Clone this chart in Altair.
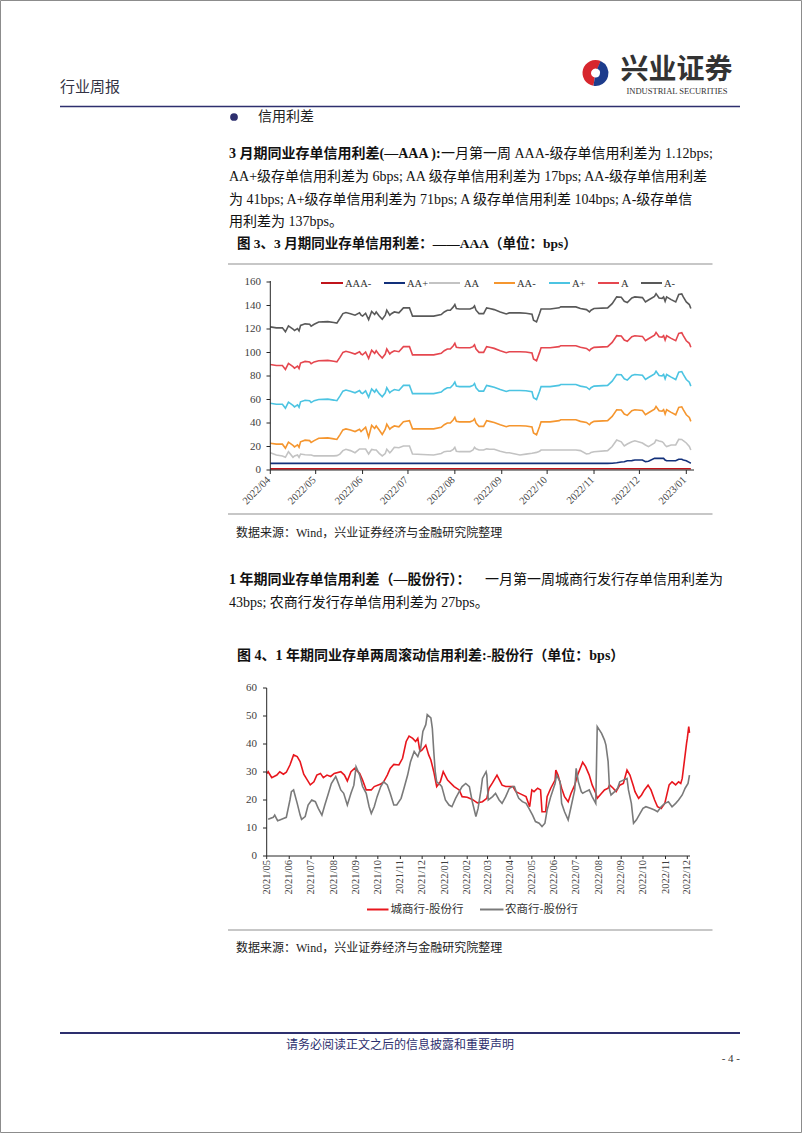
import altair as alt
import pandas as pd

# ---------------- Figure 3 data (3-month NCD credit spread, bps) ----------------
c1_dates = ["2022-04-01","2022-04-05","2022-04-09","2022-04-11","2022-04-13","2022-04-16","2022-04-17","2022-04-19","2022-04-20","2022-04-21",
            "2022-04-24","2022-04-27","2022-04-28","2022-04-30","2022-05-03","2022-05-09","2022-05-13","2022-05-15","2022-05-17","2022-05-19",
            "2022-05-21","2022-05-24","2022-05-27","2022-05-30","2022-05-31","2022-06-01","2022-06-03","2022-06-05","2022-06-07","2022-06-09",
            "2022-06-10","2022-06-12","2022-06-14","2022-06-16","2022-06-17","2022-06-19","2022-06-20","2022-06-22","2022-06-25","2022-06-28",
            "2022-07-02","2022-07-03","2022-07-04","2022-07-14","2022-07-18","2022-07-23","2022-07-25","2022-07-27","2022-07-29","2022-07-31",
            "2022-08-01","2022-08-02","2022-08-04","2022-08-11","2022-08-13","2022-08-14","2022-08-15","2022-08-17","2022-08-20","2022-08-22",
            "2022-08-24","2022-08-27","2022-08-31","2022-09-04","2022-09-06","2022-09-13","2022-09-17","2022-09-21","2022-09-22","2022-09-24",
            "2022-09-26","2022-09-27","2022-10-03","2022-10-09","2022-10-10","2022-10-20","2022-10-23","2022-10-27","2022-10-29","2022-10-30",
            "2022-11-01","2022-11-10","2022-11-13","2022-11-16","2022-11-19","2022-11-21","2022-11-23","2022-11-26","2022-11-28","2022-12-03",
            "2022-12-05","2022-12-07","2022-12-11","2022-12-12","2022-12-14","2022-12-16","2022-12-17","2022-12-18","2022-12-19","2022-12-22",
            "2022-12-25","2022-12-27","2022-12-29","2022-12-30","2023-01-01","2023-01-03","2023-01-04"]

a_minus = [121.8,121,121,117.6,122.7,120,118.7,120.4,118.4,123,
           124.4,124,122.4,124,126,126.3,125.5,125,128.9,133.1,
           134,133,131.7,133.7,131.7,131,133.4,128,135,132.3,
           134.5,131,128.3,131.7,136,131.7,133,134.5,133.7,138,
           138,134.5,131,131,131,132.3,134.5,136,136,138.8,
           140.8,137.4,137,137,138,139.6,136,133.1,133.1,138,
           137.4,136.5,134.5,132.8,133.7,133.7,133.4,132.6,127.5,126,
           133.1,137,137,138,138.8,138.8,137.4,136.5,134.5,136,
           137.4,138,141.6,147.3,147,143.6,142.5,146.4,147.3,146.7,
           143,144.7,147.8,150.1,146.4,146.1,147.3,143.6,147.3,145,
           143,149.3,149.8,147.3,143,140.8,137.4]

a_mid = [89.8,89,89,85.6,90.7,88,86.7,88.4,86.4,91,
         92.4,92,90.4,92,93,93.3,92.5,92,95.9,100.1,
         101,100,98.7,100.7,98.7,98,100.4,95,102,99.3,
         101.5,98,95.3,98.7,103,98.7,100,101.5,100.7,105,
         105,101.5,98,98,98,99.3,101.5,103,103,105.8,
         107.8,104.4,104,104,105,106.6,103,100.1,100.1,105,
         104.4,103.5,101.5,99.8,100.7,100.7,100.4,99.6,94.5,93,
         100.1,104,104,105,105.8,105.8,104.4,103.5,101.5,103,
         104.4,105,108.6,114.3,114,110.6,109.5,113.4,114.3,113.7,
         110,111.7,114.8,117.1,113.4,113.1,114.3,110.6,114.3,112,
         110,116.3,116.8,114.3,110,107.8,104.4]

a_plus = [56.8,56,56,52.6,57.7,55,53.7,55.4,53.4,58,
          59.4,59,57.4,59,60,60.3,59.5,59,62.9,67.1,
          68,67,65.7,67.7,65.7,65,67.4,62,69,66.3,
          68.5,65,62.3,65.7,70,65.7,67,68.5,67.7,72,
          72,68.5,65,65,65,66.3,68.5,70,70,72.8,
          74.8,71.4,71,71,72,73.6,70,67.1,67.1,72,
          71.4,70.5,68.5,66.8,67.7,67.7,67.4,66.6,61.5,60,
          67.1,71,71,72,72.8,72.8,71.4,70.5,68.5,70,
          71.4,72,75.6,81.3,81,77.6,76.5,80.4,81.3,80.7,
          77,78.7,81.8,84.1,80.4,80.1,81.3,77.6,81.3,79,
          77,83.3,83.8,81.3,77,74.8,71.4]

aa_minus = [22.8,22,22,18.6,23.7,21,19.7,21.4,19.4,24,
            25.4,25,23.4,25,27,27.3,26.5,26,29.9,34.1,
            35,34,32.7,34.7,32.7,34,36.4,28,38,35.3,
            37.5,34,30.3,34.7,39,34.7,36,37.5,36.7,41,
            42,38.5,35,35,35,36.3,38.5,40,40,42.8,
            44.8,41.4,41,41,42,43.6,40,37.1,37.1,42,
            41.4,40.5,38.5,36.8,37.7,37.7,37.4,36.6,31.5,30,
            37.1,41,41,42,42.8,42.8,41.4,40.5,38.5,40,
            41.4,42,45.6,51.3,51,47.6,46.5,50.4,51.3,50.7,
            47,48.7,51.8,54.1,50.4,50.1,51.3,47.6,51.3,49,
            47,53.3,53.8,51.3,47,44.8,41.4]

aa_mid = [14.7,12.8,12,10.8,15.6,10.8,12,12.8,10.8,13.6,
          13,12.8,12.8,12,12,12,12,12.2,13.5,16.5,
          17.6,16.5,14.7,17.9,17.9,17.9,17.9,13.6,17.5,17,
          17,14.2,12,14,17.6,14.7,16,19.3,19,20.4,
          20.4,17,13.6,13,12.8,14,15.6,16,16,17.6,
          19.3,16,15.6,15.6,17,19.3,18,17,17,18,
          17.6,17.6,16,14.7,14.7,12.8,13.5,14.2,14.5,15,
          16,17,17,17,17,17,16.5,13.6,14,15,
          15.6,16.5,20,25.5,24,20.4,22.1,24,24.9,23,
          21.3,19.9,23,25.5,24.6,24.1,23,21,19.9,21.3,
          21.3,26.1,26,24.9,23,20,17]

aa_plus_dates = ["2022-04-01","2022-11-10","2022-11-13","2022-11-16","2022-11-19","2022-11-21","2022-11-23","2022-11-26",
                 "2022-11-28","2022-12-03","2022-12-05","2022-12-07","2022-12-11","2022-12-17","2022-12-18","2022-12-19",
                 "2022-12-25","2022-12-27","2022-12-29","2022-12-30","2023-01-01","2023-01-03","2023-01-04"]
aa_plus = [5.6,5.6,5.8,6.2,6.8,7,7.9,8,8.5,8.5,7.1,7.5,9.9,9.9,8.5,7.9,7.9,9.1,9.1,8.5,7.9,6.5,5.8]

aaa_minus_dates = ["2022-04-01","2022-07-01","2022-10-01","2023-01-04"]
aaa_minus = [1.0, 1.1, 1.1, 1.12]

c1_names = ["AAA-", "AA+", "AA", "AA-", "A+", "A", "A-"]
c1_colors = ["#c0141b", "#12307a", "#c3c3c3", "#f5962f", "#4cc4e2", "#e5474f", "#595959"]
c1_yticks = [0, 20, 40, 60, 80, 100, 120, 140, 160]
c1_months = ["2022-04-01","2022-05-01","2022-06-01","2022-07-01","2022-08-01","2022-09-01","2022-10-01",
             "2022-11-01","2022-12-01","2023-01-01"]
c1_month_labels = ["2022/04","2022/05","2022/06","2022/07","2022/08","2022/09","2022/10","2022/11","2022/12","2023/01"]

# ---------------- Figure 4 data (1Y NCD two-week rolling spread, bps) ----------------
city_vs_jsb = [("2021-05-01",29.5),("2021-05-03",30.1),("2021-05-08",28),("2021-05-15",28.9),("2021-05-19",30.1),("2021-05-24",29.2),
    ("2021-05-28",29.9),("2021-06-02",32.5),("2021-06-07",36.1),("2021-06-12",35.5),("2021-06-16",33.7),("2021-06-21",29.2),
    ("2021-06-26",27.1),("2021-06-30",25.4),("2021-07-05",26.5),("2021-07-09",28.9),("2021-07-14",29.5),("2021-07-18",28),
    ("2021-07-23",28.9),("2021-07-28",28.4),("2021-08-02",29.5),("2021-08-11",30.1),("2021-08-16",28.9),("2021-08-20",26.8),
    ("2021-08-25",30.1),("2021-08-30",31.3),("2021-09-06",29.5),("2021-09-10",27.1),("2021-09-15",23.6),("2021-09-22",23.6),
    ("2021-09-26",24.8),("2021-10-05",25.7),("2021-10-09",26.5),("2021-10-14",28.9),("2021-10-18",31.3),("2021-10-23",32.7),
    ("2021-10-30",32.5),("2021-11-04",34.9),("2021-11-09",40.9),("2021-11-13",42.8),("2021-11-18",42),("2021-11-22",40.9),
    ("2021-11-25",42),("2021-11-28",37.3),("2021-12-01",37.9),("2021-12-06",39.6),("2021-12-10",36.1),("2021-12-13",34.3),
    ("2021-12-17",30.1),("2021-12-21",24.8),("2021-12-26",26.5),("2021-12-30",30.1),("2022-01-05",27.1),("2022-01-14",24.8),
    ("2022-01-21",23.6),("2022-01-25",21.2),("2022-02-01",21),("2022-02-08",20.2),("2022-02-15",19),("2022-02-22",19.4),
    ("2022-02-28",20.6),("2022-03-03",24.2),("2022-03-08",26.2),("2022-03-14",28.9),("2022-03-21",25.3),("2022-03-26",24.8),
    ("2022-04-05",24.8),("2022-04-09",23),("2022-04-16",22.1),("2022-04-23",21.2),("2022-04-28",17.6),("2022-05-01",23.6),
    ("2022-05-04",23),("2022-05-09",24.2),("2022-05-13",23.6),("2022-05-15",15.8),("2022-05-20",15.8),("2022-05-22",21.2),
    ("2022-05-27",24.2),("2022-06-02",27.1),("2022-06-03",30.7),("2022-06-06",28.9),("2022-06-11",24.2),("2022-06-15",21.2),
    ("2022-06-20",19.4),("2022-06-24",22.4),("2022-06-29",25.3),("2022-07-03",28.9),("2022-07-10",33.5),("2022-07-14",31.9),
    ("2022-07-19",28.9),("2022-07-23",25.4),("2022-07-28",22.4),("2022-07-30",20.6),("2022-08-05",22.4),("2022-08-09",23.6),
    ("2022-08-14",24.2),("2022-08-16",25.4),("2022-08-21",24.2),("2022-08-25",23),("2022-08-30",25.3),("2022-09-04",25.9),
    ("2022-09-09",30.7),("2022-09-13",28.9),("2022-09-18",24.8),("2022-09-20",23),("2022-09-25",20.6),("2022-09-29",21.8),
    ("2022-10-03",23.6),("2022-10-08",25.3),("2022-10-12",23.6),("2022-10-17",20),("2022-10-21",17.6),("2022-10-26",17),
    ("2022-10-31",18.8),("2022-11-06",25.4),("2022-11-10",26.5),("2022-11-15",25.4),("2022-11-19",26.5),("2022-11-22",25.9),
    ("2022-11-24",27.7),("2022-11-26",31.9),("2022-11-30",40.3),("2022-12-01",42),("2022-12-03",46.2),("2022-12-04",44)]

rural_vs_jsb = [("2021-05-03",13.1),("2021-05-10",13.8),("2021-05-12",14.6),("2021-05-16",12.6),("2021-05-19",12.9),("2021-05-24",13.4),
    ("2021-05-28",13.8),("2021-06-02",20),("2021-06-04",23),("2021-06-07",23.6),("2021-06-12",18.8),("2021-06-16",14.6),
    ("2021-06-18",13.1),("2021-06-23",14.1),("2021-06-27",18.2),("2021-07-02",20),("2021-07-07",19.4),("2021-07-11",17),
    ("2021-07-16",14.6),("2021-07-20",18.2),("2021-07-25",22.4),("2021-07-29",25.9),("2021-08-04",28.4),("2021-08-06",27.1),
    ("2021-08-11",23.6),("2021-08-15",22.4),("2021-08-20",18.2),("2021-08-25",22.4),("2021-08-29",25.3),("2021-09-01",31.9),
    ("2021-09-06",28.9),("2021-09-10",24.8),("2021-09-15",22.4),("2021-09-19",17.6),("2021-09-22",15.2),("2021-09-26",17.6),
    ("2021-09-30",21.2),("2021-10-05",24.8),("2021-10-09",26.5),("2021-10-14",25.4),("2021-10-18",22.4),("2021-10-23",18.2),
    ("2021-10-27",18.2),("2021-11-02",20.6),("2021-11-06",24.2),("2021-11-11",28.9),("2021-11-15",33.7),("2021-11-20",37.3),
    ("2021-11-25",35.5),("2021-11-29",38.5),("2021-12-02",44.5),("2021-12-06",46.9),("2021-12-08",50.5),("2021-12-13",49.3),
    ("2021-12-15",45.6),("2021-12-17",37.3),("2021-12-19",30.1),("2021-12-21",26.5),("2021-12-26",25.4),("2021-12-28",24.8),
    ("2022-01-02",20),("2022-01-07",18.2),("2022-01-11",17.6),("2022-01-16",20.6),("2022-01-21",23),("2022-01-25",24.8),
    ("2022-01-30",25.9),("2022-02-04",24.8),("2022-02-08",19.4),("2022-02-13",14.1),("2022-02-16",17),("2022-02-20",23.6),
    ("2022-02-22",27.7),("2022-02-27",30.1),("2022-02-28",28.9),("2022-03-02",20),("2022-03-08",21.2),("2022-03-12",22.4),
    ("2022-03-17",20),("2022-03-21",18.8),("2022-03-26",21.2),("2022-03-31",24.2),("2022-04-05",24.8),("2022-04-07",24.8),
    ("2022-04-11",21.8),("2022-04-13",20.6),("2022-04-18",19.4),("2022-04-23",18.8),("2022-04-27",17),("2022-05-02",14.6),
    ("2022-05-06",12.3),("2022-05-11",11.7),("2022-05-15",10.5),("2022-05-19",11.7),("2022-05-22",16.4),("2022-05-27",21.2),
    ("2022-06-02",25.9),("2022-06-04",28.9),("2022-06-09",26.5),("2022-06-11",18.8),("2022-06-15",15.8),("2022-06-20",12.9),
    ("2022-06-24",17.6),("2022-06-29",23.6),("2022-07-01",31.3),("2022-07-04",26.5),("2022-07-08",23),("2022-07-10",22.4),
    ("2022-07-14",23),("2022-07-19",23.6),("2022-07-23",21.2),("2022-07-28",18.8),("2022-07-30",46.2),("2022-08-05",43.8),
    ("2022-08-09",41.4),("2022-08-11",39.6),("2022-08-14",33.7),("2022-08-16",23.6),("2022-08-18",21.8),("2022-08-23",23),
    ("2022-08-27",24.2),("2022-08-30",26.5),("2022-09-04",27.1),("2022-09-09",27.7),("2022-09-11",23.6),("2022-09-15",18.8),
    ("2022-09-18",11.7),("2022-09-22",12.9),("2022-09-27",15.2),("2022-10-01",17),("2022-10-05",17.6),("2022-10-12",17),
    ("2022-10-17",16.4),("2022-10-21",15.8),("2022-10-26",17.6),("2022-10-31",18.8),("2022-11-05",19.4),("2022-11-10",17.6),
    ("2022-11-15",18.8),("2022-11-19",20),("2022-11-24",21.8),("2022-11-28",24.2),("2022-12-02",25.9),("2022-12-04",28.9)]

c2_names = ["城商行-股份行", "农商行-股份行"]
c2_colors = ["#e8161d", "#7a7a7a"]
c2_yticks = [0, 10, 20, 30, 40, 50, 60]
c2_months = ["2021-05-01","2021-06-01","2021-07-01","2021-08-01","2021-09-01","2021-10-01","2021-11-01","2021-12-01",
             "2022-01-01","2022-02-01","2022-03-01","2022-04-01","2022-05-01","2022-06-01","2022-07-01","2022-08-01",
             "2022-09-01","2022-10-01","2022-11-01","2022-12-01"]
c2_month_labels = [m[:4] + "/" + m[5:7] for m in c2_months]

# ---------------- build tables ----------------
rows = []
for name, dates, vals in [("A-", c1_dates, a_minus), ("A", c1_dates, a_mid), ("A+", c1_dates, a_plus),
                          ("AA-", c1_dates, aa_minus), ("AA", c1_dates, aa_mid),
                          ("AA+", aa_plus_dates, aa_plus), ("AAA-", aaa_minus_dates, aaa_minus)]:
    for d, v in zip(dates, vals):
        rows.append({"date": pd.Timestamp(d), "value": v, "series": name})
df1 = pd.DataFrame(rows)
df1_ticks = pd.DataFrame({"date": pd.to_datetime(c1_months), "label": c1_month_labels})
df1_y = pd.DataFrame({"v": c1_yticks})

df2_red = pd.DataFrame({"date": pd.to_datetime([d for d, _ in city_vs_jsb]), "value": [v for _, v in city_vs_jsb],
                        "series": c2_names[0]})
df2_gray = pd.DataFrame({"date": pd.to_datetime([d for d, _ in rural_vs_jsb]), "value": [v for _, v in rural_vs_jsb],
                         "series": c2_names[1]})
df2_ticks = pd.DataFrame({"date": pd.to_datetime(c2_months), "label": c2_month_labels})
df2_y = pd.DataFrame({"v": c2_yticks})

dummy = pd.DataFrame({"k": [0]})

SERIF = "Liberation Serif"
CJK = "Noto Sans CJK SC"
MIX = "Liberation Serif, Noto Sans CJK SC"
NAVY = "#2d2f6e"
AXIS = "#262626"


def txt(s, x, y, size=14, weight="normal", color="#111111", align="left", font=MIX):
    return alt.Chart(dummy).mark_text(text=s, fontSize=size, fontWeight=weight, color=color, align=align,
                                      baseline="middle", font=font).encode(x=alt.value(x), y=alt.value(y))


def hline(x0, x1, y, color, w=1.0):
    return alt.Chart(dummy).mark_rule(color=color, strokeWidth=w).encode(
        x=alt.value(x0), x2=alt.value(x1), y=alt.value(y))


def vline(x, y0, y1, color, w=1.0):
    return alt.Chart(dummy).mark_rule(color=color, strokeWidth=w).encode(
        x=alt.value(x), y=alt.value(y0), y2=alt.value(y1))


# ---------------- Figure 3 ----------------
x1 = alt.Scale(domain=[alt.DateTime(year=2022, month=4, date=1), alt.DateTime(year=2023, month=1, date=1)],
               range=[270.3, 686.3])
y1 = alt.Scale(domain=[0, 160], range=[470, 282], nice=False, zero=False)

lines1 = alt.Chart(df1).mark_line(strokeWidth=1.6).encode(
    x=alt.X("date:T", scale=x1, axis=None),
    y=alt.Y("value:Q", scale=y1, axis=None),
    color=alt.Color("series:N", scale=alt.Scale(domain=c1_names, range=c1_colors), legend=None),
)
ylab1 = alt.Chart(df1_y).mark_text(align="right", baseline="middle", font=SERIF, fontSize=11, color="#404040").encode(
    y=alt.Y("v:Q", scale=y1, axis=None), x=alt.value(261), text="v:Q")
ytick1 = alt.Chart(df1_y).mark_rule(color=AXIS).encode(
    y=alt.Y("v:Q", scale=y1, axis=None), x=alt.value(266.5), x2=alt.value(270.3))
xtick1 = alt.Chart(df1_ticks).mark_rule(color=AXIS).encode(
    x=alt.X("date:T", scale=x1, axis=None), y=alt.value(470), y2=alt.value(474))
xlab1 = alt.Chart(df1_ticks).mark_text(align="right", baseline="middle", angle=315, font=SERIF, fontSize=10.5,
                                       color="#404040", dx=-2).encode(
    x=alt.X("date:T", scale=x1, axis=None), y=alt.value(477), text="label:N")
fig3 = alt.layer(lines1, ylab1, ytick1, xtick1, xlab1)

# legend of figure 3
leg1 = []
leg_pos = [(321, 343, 345), (384, 405, 407), (429, 460, 464), (494, 515, 517), (549, 570, 572), (598, 619, 621), (641, 662, 664)]
for name, col, (a, b, t) in zip(c1_names, c1_colors, leg_pos):
    leg1.append(hline(a, b, 283, col, 2))
    leg1.append(txt(name, t, 283.5, size=10.5, color="#333333", font=SERIF))

# ---------------- Figure 4 ----------------
x2 = alt.Scale(domain=[alt.DateTime(year=2021, month=5, date=1), alt.DateTime(year=2022, month=12, date=1)],
               range=[266.7, 687.3])
y2 = alt.Scale(domain=[0, 60], range=[856, 688], nice=False, zero=False)
c2_color = alt.Scale(domain=c2_names, range=c2_colors)

red2 = alt.Chart(df2_red).mark_line(strokeWidth=1.6).encode(
    x=alt.X("date:T", scale=x2, axis=None), y=alt.Y("value:Q", scale=y2, axis=None),
    color=alt.Color("series:N", scale=c2_color, legend=None))
gray2 = alt.Chart(df2_gray).mark_line(strokeWidth=1.6).encode(
    x=alt.X("date:T", scale=x2, axis=None), y=alt.Y("value:Q", scale=y2, axis=None),
    color=alt.Color("series:N", scale=c2_color, legend=None))
ylab2 = alt.Chart(df2_y).mark_text(align="right", baseline="middle", font=SERIF, fontSize=11, color="#404040").encode(
    y=alt.Y("v:Q", scale=y2, axis=None), x=alt.value(257), text="v:Q")
ytick2 = alt.Chart(df2_y).mark_rule(color=AXIS).encode(
    y=alt.Y("v:Q", scale=y2, axis=None), x=alt.value(263), x2=alt.value(266.7))
xtick2 = alt.Chart(df2_ticks).mark_rule(color=AXIS).encode(
    x=alt.X("date:T", scale=x2, axis=None), y=alt.value(856), y2=alt.value(859))
xlab2 = alt.Chart(df2_ticks).mark_text(align="right", baseline="middle", angle=270, font=SERIF, fontSize=10.5,
                                       color="#404040").encode(
    x=alt.X("date:T", scale=x2, axis=None), y=alt.value(860), text="label:N")
fig4 = alt.layer(red2, gray2, ylab2, ytick2, xtick2, xlab2)

leg2 = [hline(367, 388.5, 909.5, c2_colors[0], 2), txt(c2_names[0], 390.5, 909.5, size=11.5, color="#333333", font=CJK),
        hline(480, 503.5, 909.5, c2_colors[1], 2), txt(c2_names[1], 505, 909.5, size=11.5, color="#333333", font=CJK)]

# ---------------- page furniture ----------------
page = [
    alt.Chart(dummy).mark_rect(fillOpacity=0, stroke="#8c8c8c", strokeWidth=1).encode(
        x=alt.value(0.5), x2=alt.value(801.5), y=alt.value(0.5), y2=alt.value(1132.5)),
    txt("行业周报", 60, 87, size=15, color="#333344", font=CJK),
    alt.Chart(dummy).mark_arc(theta=3.3, theta2=6.7, radius=13, radius2=4.5, color="#d7262d").encode(
        x=alt.value(595.5), y=alt.value(73)),
    alt.Chart(dummy).mark_arc(theta=0.4, theta2=3.3, radius=13, radius2=4.5, color="#1d3c8c").encode(
        x=alt.value(595.5), y=alt.value(73)),
    txt("兴业证券", 676.5, 70.5, size=28, weight="bold", color="#333333", align="center", font=CJK),
    txt("INDUSTRIAL SECURITIES", 677, 91, size=8.5, color="#333333", align="center", font=SERIF),
    hline(60, 740, 106.5, NAVY, 1.5),
    alt.Chart(dummy).mark_point(shape="circle", filled=True, size=60, color=NAVY, opacity=1).encode(
        x=alt.value(234), y=alt.value(117)),
    txt("信用利差", 258, 117, size=14, color="#222222", font=CJK),
    # paragraph 1
    txt("3 月期同业存单信用利差(—AAA ):", 229, 154, weight="bold"),
    txt("一月第一周 AAA-级存单信用利差为 1.12bps;", 441, 154),
    txt("AA+级存单信用利差为 6bps;  AA 级存单信用利差为 17bps;  AA-级存单信用利差", 229, 177),
    txt("为 41bps;  A+级存单信用利差为 71bps;  A 级存单信用利差 104bps;  A-级存单信", 229, 199.5),
    txt("用利差为 137bps。", 229, 222),
    txt("图 3、3 月期同业存单信用利差：——AAA（单位：bps）", 237, 244, size=13.5, weight="bold"),
    hline(228, 712.5, 264, "#8f8f8f", 1.2),
    vline(270.3, 470, 281, AXIS),
    hline(270.3, 694, 470, AXIS),
    hline(228, 712.5, 514, "#8f8f8f", 1.2),
    txt("数据来源：Wind，兴业证券经济与金融研究院整理", 236, 533, size=12, color="#222222"),
    # paragraph 2
    txt("1 年期同业存单信用利差（—股份行）：", 229, 580, weight="bold"),
    txt("一月第一周城商行发行存单信用利差为", 485, 580),
    txt("43bps;  农商行发行存单信用利差为 27bps。", 229, 603),
    txt("图 4、1 年期同业存单两周滚动信用利差:-股份行（单位：bps）", 237, 656, size=14, weight="bold"),
    vline(266.7, 856, 688, AXIS),
    hline(266.7, 690, 856, AXIS),
    hline(228, 712.5, 930, "#8f8f8f", 1.2),
    txt("数据来源：Wind，兴业证券经济与金融研究院整理", 236, 948, size=12, color="#222222"),
    # footer
    hline(60, 740, 1033, NAVY, 2),
    txt("请务必阅读正文之后的信息披露和重要声明", 400, 1045, size=12, color=NAVY, align="center", font=CJK),
    txt("- 4 -", 740, 1059, size=11, color="#333333", align="right", font=SERIF),
]

chart = alt.layer(fig3, fig4, *leg1, *leg2, *page).resolve_scale(
    x="independent", y="independent", color="independent"
).properties(
    width=802, height=1133, padding=0, autosize=alt.AutoSizeParams(type="none"), background="white"
).configure_view(strokeWidth=0)

chart.save("out.html", embed_options={"renderer": "svg", "actions": False})
